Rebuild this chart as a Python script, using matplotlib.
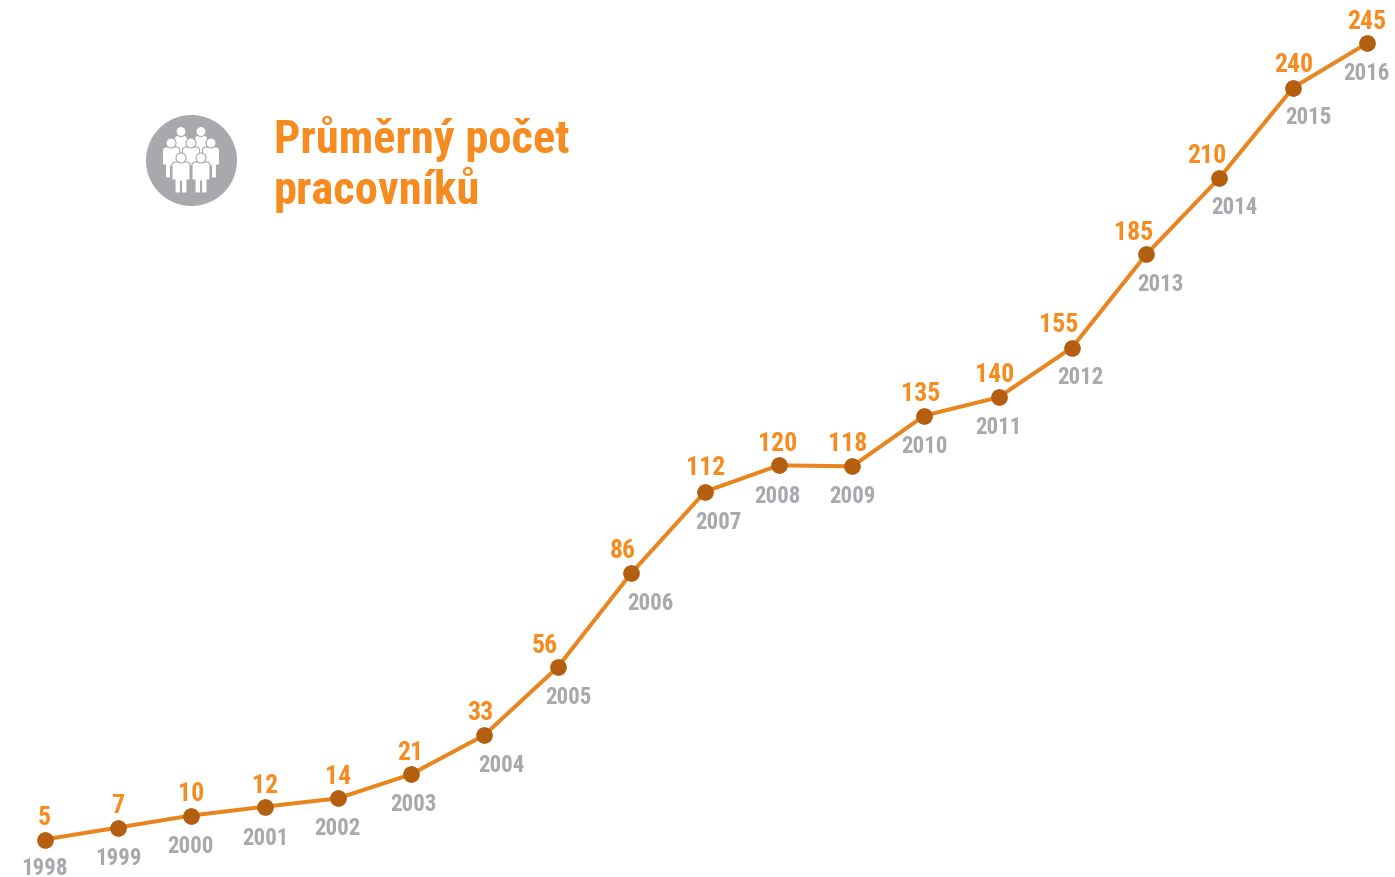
import matplotlib
matplotlib.use("Agg")
import matplotlib.pyplot as plt
from matplotlib.patches import Circle, Polygon

years = list(range(1998, 2017))
# printed labels
labels = [5, 7, 10, 12, 14, 21, 33, 56, 86, 112, 120, 118, 135, 140, 155, 185, 210, 240, 245]
# line heights (the original is not drawn to scale)
heights = [5, 8.6, 12.2, 14.9, 17.4, 24.6, 36.4, 56.9, 85.2, 109.9, 117.8, 117.5,
           132.8, 138.3, 153.3, 181.4, 204.3, 231.7, 245]
# horizontal places of the points, in years
places = [1998.0, 1999.0, 1999.99, 2001.0, 2001.99, 2002.98, 2003.98, 2004.98, 2005.98, 2006.99,
          2007.99, 2008.99, 2009.97, 2010.98, 2011.98, 2012.99, 2013.98, 2014.99, 2015.99]

# label offsets in pixels from the point
val_dx = [0, 0, 0, 0, 0, 0, -4, -13, -8, 0, -1, -5, -4, -4, -13, -13, -12, 0, 0]
val_dy = [25, 25, 25, 24, 25, 25, 26, 25, 26, 27, 25, 26, 25, 26, 26, 25, 26, 26, 25]
year_dx = [0, 0, 0, 0, 0, 3, 17, 11, 19, 13, -1, 0, 0, 0, 8, 14, 15, 15, 0]
year_dy = [-26, -27, -27, -28, -27, -27, -27, -27, -27, -27, -28, -27, -27, -27, -26, -27, -26, -26, -27]

ORANGE = "#F68B1F"
LINE = "#E8851F"
DOT = "#B45F10"
GREY = "#A7A9AC"
FONT = ["Roboto Condensed", "DejaVu Sans"]

W, H = 1395, 878
fig = plt.figure(figsize=(W / 100, H / 100), dpi=100)
ax = fig.add_axes([0, 0, 1, 1])
px_x, px_y = 73.5, 3.317
x0 = 1998 - 44.5 / px_x
ax.set_xlim(x0, x0 + W / px_x)
ax.set_ylim(5 - (H - 840.5) / px_y, 5 + 840.5 / px_y)
ax.axis("off")

ax.plot(places, heights, color=LINE, lw=2.9, zorder=2, solid_capstyle="round")
ax.plot(places, heights, ls="none", marker="o", ms=12, mfc=DOT, mec=DOT, mew=0, zorder=3)

for i, (p, h, lab, yr) in enumerate(zip(places, heights, labels, years)):
    ax.annotate(str(lab), (p, h), xytext=(val_dx[i], val_dy[i]), textcoords="offset pixels",
                ha="center", va="center_baseline", color=ORANGE, fontsize=18.5, fontweight="bold", family=FONT)
    ax.annotate(str(yr), (p, h), xytext=(year_dx[i], year_dy[i]), textcoords="offset pixels",
                ha="center", va="center_baseline", color=GREY, fontsize=16.5, fontweight="bold", family=FONT)

# overlay in pixel coordinates for title and icon
ov = fig.add_axes([0, 0, 1, 1], facecolor="none")
ov.set_xlim(0, W)
ov.set_ylim(H, 0)
ov.axis("off")

ov.text(273.5, 134, "Průměrný počet", color=ORANGE, fontsize=33.5, fontweight="bold",
        family=FONT, ha="left", va="center_baseline")
ov.text(273.5, 185, "pracovníků", color=ORANGE, fontsize=33.5, fontweight="bold",
        family=FONT, ha="left", va="center_baseline")

ov.add_patch(Circle((191.5, 161.5), 45.5, fc=GREY, ec="none"))


def person(cx, head_y, hw, leg):
    top = head_y + 4
    pts = [(cx - hw, top + 2), (cx - hw + 2, top), (cx + hw - 2, top), (cx + hw, top + 2),
           (cx + hw, top + 18), (cx + hw - 3, top + 18), (cx + hw - 3, top + leg),
           (cx + 0.5, top + leg), (cx + 0.5, top + 19),
           (cx - 0.5, top + 19), (cx - 0.5, top + leg),
           (cx - hw + 3, top + leg), (cx - hw + 3, top + 18), (cx - hw, top + 18)]
    ov.add_patch(Polygon(pts, closed=True, fc="white", ec=GREY, lw=0.8))
    ov.add_patch(Circle((cx, head_y), 5, fc="white", ec=GREY, lw=0.8))


for cx in (181, 201):
    person(cx, 132.5, 6.5, 24)
for cx in (171, 191, 211):
    person(cx, 144, 8.5, 31)
for cx in (181, 201):
    person(cx, 159, 9, 31)

fig.savefig("out.png", dpi=100)
